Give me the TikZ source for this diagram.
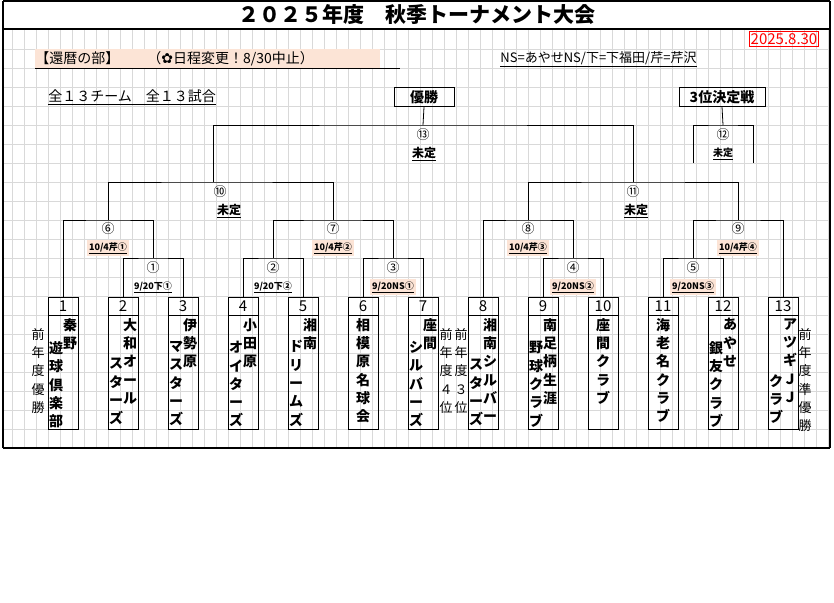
\documentclass[tikz,border=0pt]{standalone}
\usepackage{fontspec}
\setmainfont{Noto Sans CJK JP}
\newfontfamily\symfont{DejaVu Sans}
\usetikzlibrary{positioning,calc}
\definecolor{peach}{HTML}{FCE4D6}
\definecolor{gridc}{HTML}{D9D9D9}
\newcommand\tightcol{\lineskiplimit=-20pt\relax}
\tikzset{
  numcell/.style={draw,minimum width=30pt,minimum height=18pt,inner sep=0,font=\fontsize{15}{15}\selectfont},
  namebox/.style={draw,minimum width=30pt,minimum height=114pt,inner sep=0},
  col/.style={anchor=north,align=center,inner sep=0,font=\bfseries\fontsize{14}{18.3}\selectfont\tightcol},
  note/.style={anchor=north,align=center,inner sep=0,font=\fontsize{13}{18.3}\selectfont\tightcol},
  mnum/.style={inner sep=0,font=\fontsize{13}{13}\selectfont},
  datelab/.style={fill=peach,inner sep=2pt,font=\bfseries\fontsize{9}{9}\selectfont},
  plainlab/.style={inner sep=2pt,font=\bfseries\fontsize{9}{9}\selectfont},
  tbd/.style={inner sep=0,font=\bfseries\fontsize{12}{12}\selectfont},
  headbox/.style={draw,minimum width=60pt,minimum height=19pt,inner sep=0,font=\bfseries\fontsize{14}{14}\selectfont}
}
\begin{document}
\begin{tikzpicture}[x=1pt,y=-1pt,line width=0.8pt]
\useasboundingbox (0,0) rectangle (834,602);
\fill[white] (0,0) rectangle (834,602);
% grid
\foreach \gx in {12,24,...,828} \draw[gridc,line width=0.5pt] (\gx,30) -- (\gx,448);
\foreach \gy in {49,68,...,448} \draw[gridc,line width=0.5pt] (3,\gy) -- (830,\gy);
% frame
\draw[line width=1.6pt] (3,1) -- (3,448) (830,1) -- (830,448) (3,1) -- (830,1) (3,448) -- (830,448);
\draw[line width=1.6pt] (3,29) -- (830,29);
\node[font=\bfseries\fontsize{21}{21}\selectfont] (title) at (417,15) {２０２５年度　秋季トーナメント大会};
\node[draw=red,line width=1pt,text=red,inner sep=1.5pt,font=\fontsize{15}{15}\selectfont] (date) at (784,39) {2025.8.30};
\fill[peach] (35,49) rectangle (380,68);
\node[anchor=west,inner sep=0,font=\fontsize{14}{14}\selectfont] (div) at (35,59) {【還暦の部】　　（{\symfont ✿}日程変更！8/30中止）};
\draw (35,68) -- (400,68);
\node[anchor=west,inner sep=0,font=\fontsize{13}{13}\selectfont] (key) at (500,59) {\underline{NS=あやせNS/下=下福田/芹=芹沢}};
\node[anchor=west,inner sep=0,font=\fontsize{14}{14}\selectfont] (count) at (48,97) {\underline{全１３チーム　全１３試合}};
\node[headbox] (win) at (424,97) {優勝};
\node[headbox,minimum width=86pt] (third) at (722,97) {3位決定戦};
% teams
\foreach \i in {1,...,13}{
  \node[numcell] (t\i) at ({63+60*(\i-1)},306) {\i};
  \node[namebox] (n\i) at ({63+60*(\i-1)},372) {};
}
\node[col] at (70,318) {秦\\野};        \node[col] at (56,341) {遊\\球\\倶\\楽\\部};
\node[note] at (38,328) {前\\年\\度\\優\\勝};
\node[col] at (130,318) {大\\和\\オ\\ー\\ル}; \node[col] at (116,358) {ス\\タ\\ー\\ズ};
\node[col] at (190,318) {伊\\勢\\原};    \node[col] at (176,341) {マ\\ス\\タ\\ー\\ズ};
\node[col] at (250,318) {小\\田\\原};    \node[col] at (236,341) {オ\\イ\\タ\\ー\\ズ};
\node[col] at (310,318) {湘\\南};        \node[col] at (296,340) {ド\\リ\\ー\\ム\\ズ};
\node[col] at (363,318) {相\\模\\原\\名\\球\\会};
\node[col] at (430,318) {座\\間};        \node[col] at (416,341) {シ\\ル\\バ\\ー\\ズ};
\node[note] at (446,328) {前\\年\\度\\４\\位};
\node[note] at (461,328) {前\\年\\度\\３\\位};
\node[col] at (490,318) {湘\\南\\シ\\ル\\バ\\ー}; \node[col] at (476,359) {ス\\タ\\ー\\ズ};
\node[col] at (550,318) {南\\足\\柄\\生\\涯}; \node[col] at (536,341) {野\\球\\ク\\ラ\\ブ};
\node[col] at (603,318) {座\\間\\ク\\ラ\\ブ};
\node[col] at (663,318) {海\\老\\名\\ク\\ラ\\ブ};
\node[col] at (730,318) {あ\\や\\せ};    \node[col] at (716,341) {銀\\友\\ク\\ラ\\ブ};
\node[col] at (790,318) {ア\\ツ\\ギ\\Ｊ\\Ｊ}; \node[col] at (776,374) {ク\\ラ\\ブ};
\node[note] at (805,328) {前\\年\\度\\準\\優\\勝};
% bracket joints
\coordinate (j1) at (153,258); \coordinate (j2) at (273,258); \coordinate (j3) at (393,258);
\coordinate (j4) at (573,258); \coordinate (j5) at (693,258);
\coordinate (j6) at (108,220); \coordinate (j7) at (333,220);
\coordinate (j8) at (528,220); \coordinate (j9) at (738,220);
\coordinate (j10) at (213,182); \coordinate (j11) at (633,182);
\coordinate (j13) at (423,125); \coordinate (j12) at (723,125);
\coordinate (e12a) at (693,163); \coordinate (e12b) at (753,163);
\draw (t2.north) |- (j1) -| (t3.north);
\draw (t4.north) |- (j2) -| (t5.north);
\draw (t6.north) |- (j3) -| (t7.north);
\draw (t9.north) |- (j4) -| (t10.north);
\draw (t11.north) |- (j5) -| (t12.north);
\draw (t1.north) |- (j6) -| (j1);
\draw (j2) |- (j7) -| (j3);
\draw (t8.north) |- (j8) -| (j4);
\draw (j5) |- (j9) -| (t13.north);
\draw (j6) |- (j10) -| (j7);
\draw (j8) |- (j11) -| (j9);
\draw (j10) |- (j13) -| (j11);
\draw (win.south) -- (j13);
\draw (e12a) |- (j12) -| (e12b);
\draw (third.south) -- (j12);
% match labels
\foreach \m/\mx/\my in {①/153/268,②/273/268,③/393/268,④/573/268,⑤/693/268,
    ⑥/108/229,⑦/333/229,⑧/528/229,⑨/738/229,⑩/220/192,⑪/633/192,⑬/423/135,⑫/723/135}
  \node[mnum] at (\mx,\my) {\m};
\node[plainlab] (d1) at (153,287) {\underline{9/20下①}};
\node[plainlab] (d2) at (273,287) {\underline{9/20下②}};
\node[datelab] (d3) at (393,287) {\underline{9/20NS①}};
\node[datelab] (d4) at (573,287) {\underline{9/20NS②}};
\node[datelab] (d5) at (693,287) {\underline{9/20NS③}};
\node[datelab] (d6) at (108,248) {\underline{10/4芹①}};
\node[datelab] (d7) at (333,248) {\underline{10/4芹②}};
\node[datelab] (d8) at (528,248) {\underline{10/4芹③}};
\node[datelab] (d9) at (738,248) {\underline{10/4芹④}};
\node[tbd] (u10) at (229,211) {\underline{未定}};
\node[tbd] (u11) at (636,211) {\underline{未定}};
\node[tbd] (u13) at (424,154) {\underline{未定}};
\node[tbd,font=\bfseries\fontsize{10}{10}\selectfont] (u12) at (723,154) {\underline{未定}};
\end{tikzpicture}
\end{document}
